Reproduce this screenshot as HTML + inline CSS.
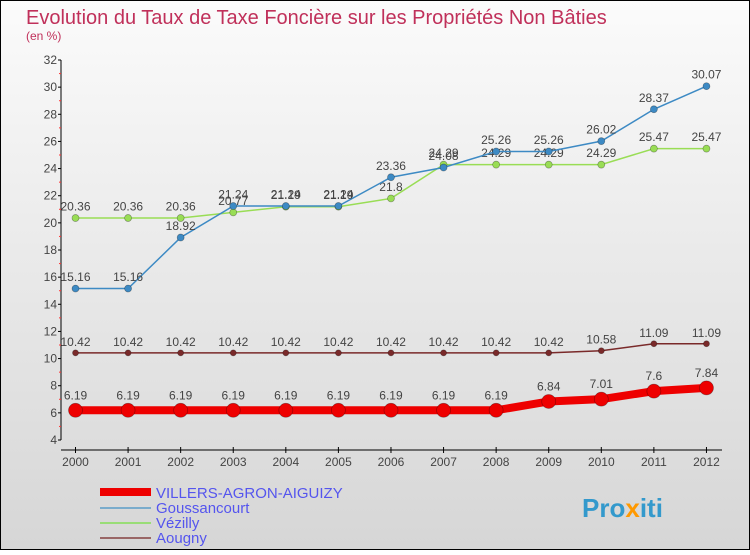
<!DOCTYPE html>
<html><head><meta charset="utf-8"><style>
body{margin:0}
svg text{font-family:"Liberation Sans",sans-serif}
</style></head><body>
<svg width="750" height="550" xmlns="http://www.w3.org/2000/svg">
<defs><linearGradient id="bg" x1="0" y1="0" x2="0" y2="1"><stop offset="0" stop-color="#fbfbfb"/><stop offset="1" stop-color="#d6d6d6"/></linearGradient></defs>
<rect x="0.5" y="0.5" width="749" height="549" fill="url(#bg)" stroke="#000"/>
<text x="26" y="24" font-size="20" fill="#c0305a">Evolution du Taux de Taxe Foncière sur les Propriétés Non Bâties</text>
<text x="26" y="40" font-size="12" fill="#c0305a">(en %)</text>
<g id="axes"></g>
<g id="series"></g>
<g>
<rect x="100" y="488" width="51" height="8" fill="#e00"/>
<text x="156" y="498" font-size="15" fill="#5555ee">VILLERS-AGRON-AIGUIZY</text>
<rect x="100" y="507" width="51" height="2" fill="#7aaccc"/>
<text x="156" y="513" font-size="15" fill="#5555ee">Goussancourt</text>
<rect x="100" y="522" width="51" height="2" fill="#99dd77"/>
<text x="156" y="528" font-size="15" fill="#5555ee">Vézilly</text>
<rect x="100" y="537" width="51" height="2" fill="#996666"/>
<text x="156" y="543" font-size="15" fill="#5555ee">Aougny</text>
</g>
<text x="582" y="517" font-size="26" font-weight="bold" fill="#3399cc">Pro<tspan fill="#ff9900">x</tspan>iti</text>
</svg>
<script>
const years=[2000,2001,2002,2003,2004,2005,2006,2007,2008,2009,2010,2011,2012];
const yTicks=[4,6,8,10,12,14,16,18,20,22,24,26,28,30,32];
const villers=[6.19,6.19,6.19,6.19,6.19,6.19,6.19,6.19,6.19,6.84,7.01,7.6,7.84];
const goussancourt=[15.16,15.16,18.92,21.24,21.24,21.24,23.36,24.08,25.26,25.26,26.02,28.37,30.07];
const vezilly=[20.36,20.36,20.36,20.77,21.19,21.19,21.8,24.29,24.29,24.29,24.29,25.47,25.47];
const aougny=[10.42,10.42,10.42,10.42,10.42,10.42,10.42,10.42,10.42,10.42,10.58,11.09,11.09];
const NS='http://www.w3.org/2000/svg';
const x=i=>75.5+i*52.58;
const y=v=>440-(v-4)*(380/28);
function mk(t,a,p){const e=document.createElementNS(NS,t);for(const k in a)e.setAttribute(k,a[k]);p.appendChild(e);return e;}
const ax=document.getElementById('axes');
const ya=mk('line',{x1:61,y1:60,x2:61,y2:440,stroke:'#000'},ax);


const xa=mk('line',{x1:61,y1:450,x2:722,y2:450,stroke:'#000'},ax);


yTicks.forEach((t,i)=>{
  mk('line',{x1:58,x2:61,y1:y(t),y2:y(t),stroke:'#000'},ax);
  if(i<yTicks.length-1)mk('line',{x1:59,x2:61,y1:y(t+1),y2:y(t+1),stroke:'#f33'},ax);
  const tx=mk('text',{x:57,y:y(t)+4,'font-size':12,fill:'#444','text-anchor':'end'},ax);tx.textContent=t;
  
  
});
years.forEach((yr,i)=>{
  mk('line',{x1:x(i),x2:x(i),y1:447,y2:453,stroke:'#000'},ax);
  const tx=mk('text',{x:x(i),y:466,'font-size':12,fill:'#444','text-anchor':'middle'},ax);tx.textContent=yr;
  
  
});
const sg=document.getElementById('series');
function series(vals,color,w,r,name){
  const g=mk('g',{},sg);
  
  
  mk('polyline',{points:vals.map((v,i)=>x(i)+','+y(v)).join(' '),fill:'none',stroke:color,'stroke-width':w},g);
  vals.forEach((v,i)=>{
    const c=mk('circle',{cx:x(i),cy:y(v),r:r,fill:color,stroke:'rgba(0,0,0,0.35)','stroke-width':0.7},g);
    
    
    const t=mk('text',{x:x(i),y:y(v)-(r+4),'font-size':12,fill:'#444','text-anchor':'middle'},g);t.textContent=v;
    
    
  });
}
series(aougny,'#7a2a2a',1.5,3,'series-aougny');
series(vezilly,'#99dd55',1.5,3.5,'series-vezilly');
series(goussancourt,'#3d8ac4',1.5,3.5,'series-goussancourt');
series(villers,'#ee0000',8,7,'series-villers');
</script>
</body></html>
